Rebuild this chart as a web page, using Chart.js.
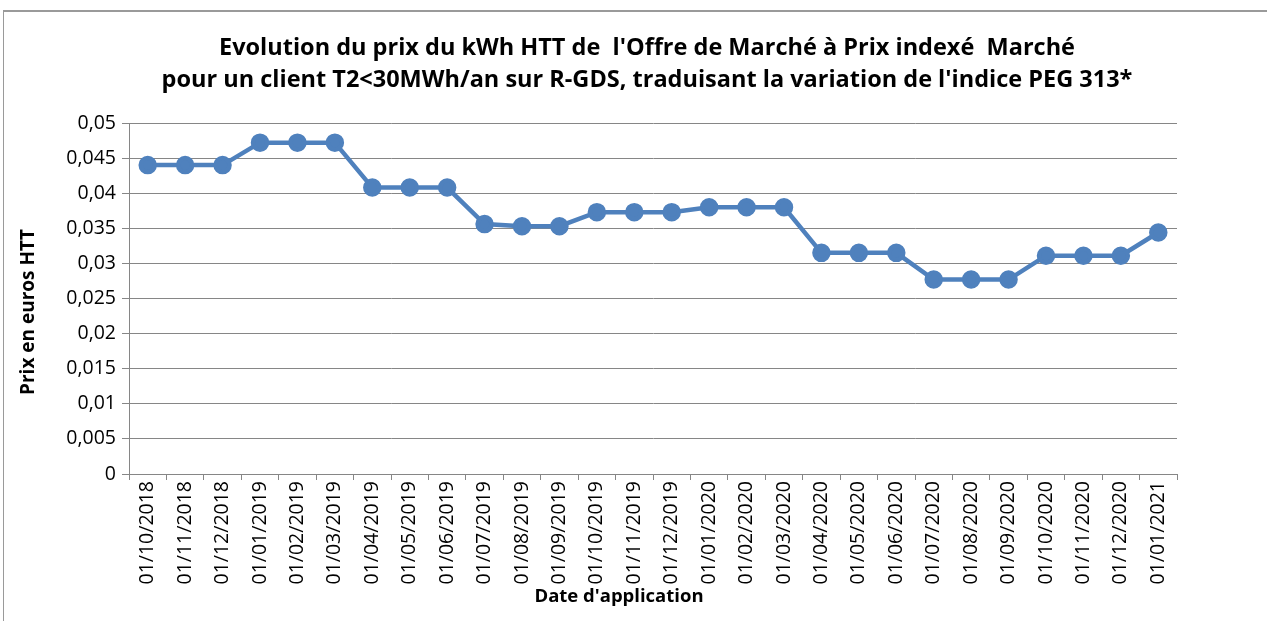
<!DOCTYPE html>
<html>
<head>
<meta charset="utf-8">
<script src="https://cdn.jsdelivr.net/npm/chart.js@4.4.0/dist/chart.umd.min.js"></script>
<style>
  html, body { margin:0; padding:0; background:#fff; }
  #wrap { width:1267px; height:621px; position:relative; }
</style>
</head>
<body>
<div id="wrap"><canvas id="prixChart" width="1267" height="621"></canvas></div>
<script>
// Dates d'application (axe X)
const dates = [
  '01/10/2018','01/11/2018','01/12/2018','01/01/2019','01/02/2019','01/03/2019',
  '01/04/2019','01/05/2019','01/06/2019','01/07/2019','01/08/2019','01/09/2019',
  '01/10/2019','01/11/2019','01/12/2019','01/01/2020','01/02/2020','01/03/2020',
  '01/04/2020','01/05/2020','01/06/2020','01/07/2020','01/08/2020','01/09/2020',
  '01/10/2020','01/11/2020','01/12/2020','01/01/2021'
];
// Prix du kWh HTT
const prix = [
  0.0440, 0.0440, 0.0440, 0.0472, 0.0472, 0.0472,
  0.0408, 0.0408, 0.0408, 0.0356, 0.0353, 0.0353,
  0.0373, 0.0373, 0.0373, 0.0380, 0.0380, 0.0380,
  0.0315, 0.0315, 0.0315, 0.0277, 0.0277, 0.0277,
  0.0311, 0.0311, 0.0311, 0.0344
];
const titre = [
  "Evolution du prix du kWh HTT de  l'Offre de Marché à Prix indexé  Marché",
  "pour un client T2<30MWh/an sur R-GDS, traduisant la variation de l'indice PEG 313*"
];
const titreX = "Date d'application";
const titreY = 'Prix en euros HTT';

const FONT = "'Open Sans', sans-serif";
const GRIS = '#868686';

// cadre gris (haut et gauche) + titres placés comme dans Excel
const cadre = {
  id: 'cadre',
  beforeDraw(chart) {
    const c = chart.ctx;
    c.save();
    c.strokeStyle = '#9a9a9a';
    c.lineWidth = 2;
    c.beginPath();
    c.moveTo(3, 11); c.lineTo(1267, 11);
    c.stroke();
    c.lineWidth = 1;
    c.beginPath();
    c.moveTo(3.5, 11); c.lineTo(3.5, 621);
    c.stroke();
    c.restore();
  },
  afterDraw(chart) {
    const c = chart.ctx;
    c.save();
    c.fillStyle = '#000';
    c.textAlign = 'center';
    c.textBaseline = 'middle';
    c.font = "bold 23.5px " + FONT;
    titre.forEach((t, i) => c.fillText(t, 647, 48 + i * 32));
    c.font = "bold 18.5px " + FONT;
    c.fillText(titreX, 619, 597);
    c.translate(29, 312);
    c.rotate(-Math.PI / 2);
    c.font = "bold 19px " + FONT;
    c.fillText(titreY, 0, 0);
    c.restore();
  }
};

new Chart(document.getElementById('prixChart'), {
  type: 'line',
  data: {
    labels: dates,
    datasets: [{
      data: prix,
      borderColor: '#4F81BD',
      backgroundColor: '#4F81BD',
      borderWidth: 4.5,
      pointRadius: 7,
      pointHoverRadius: 7,
      tension: 0
    }]
  },
  options: {
    responsive: false,
    animation: false,
    layout: { padding: { left: 12, right: 90, top: 123, bottom: 0 } },
    plugins: {
      legend: { display: false },
      tooltip: { enabled: false },
      title: { display: false }
    },
    scales: {
      x: {
        offset: true,
        grid: { display: true, drawOnChartArea: false, offset: true, color: GRIS, tickLength: 6 },
        border: { color: GRIS, width: 1 },
        ticks: { color: '#000', font: { family: FONT, size: 19.5 }, minRotation: 90, maxRotation: 90, padding: 1, autoSkip: false },
        afterFit(scale) { scale.height = 147; }
      },
      y: {
        min: 0, max: 0.05,
        ticks: {
          stepSize: 0.005, color: '#000', font: { family: FONT, size: 19.5 }, padding: 6,
          callback: v => String(+v.toFixed(3)).replace('.', ',')
        },
        grid: { color: GRIS, tickLength: 7 },
        border: { color: GRIS, width: 1 },
        afterFit(scale) { scale.width = 117; }
      }
    }
  },
  plugins: [cadre]
});
</script>
</body>
</html>
